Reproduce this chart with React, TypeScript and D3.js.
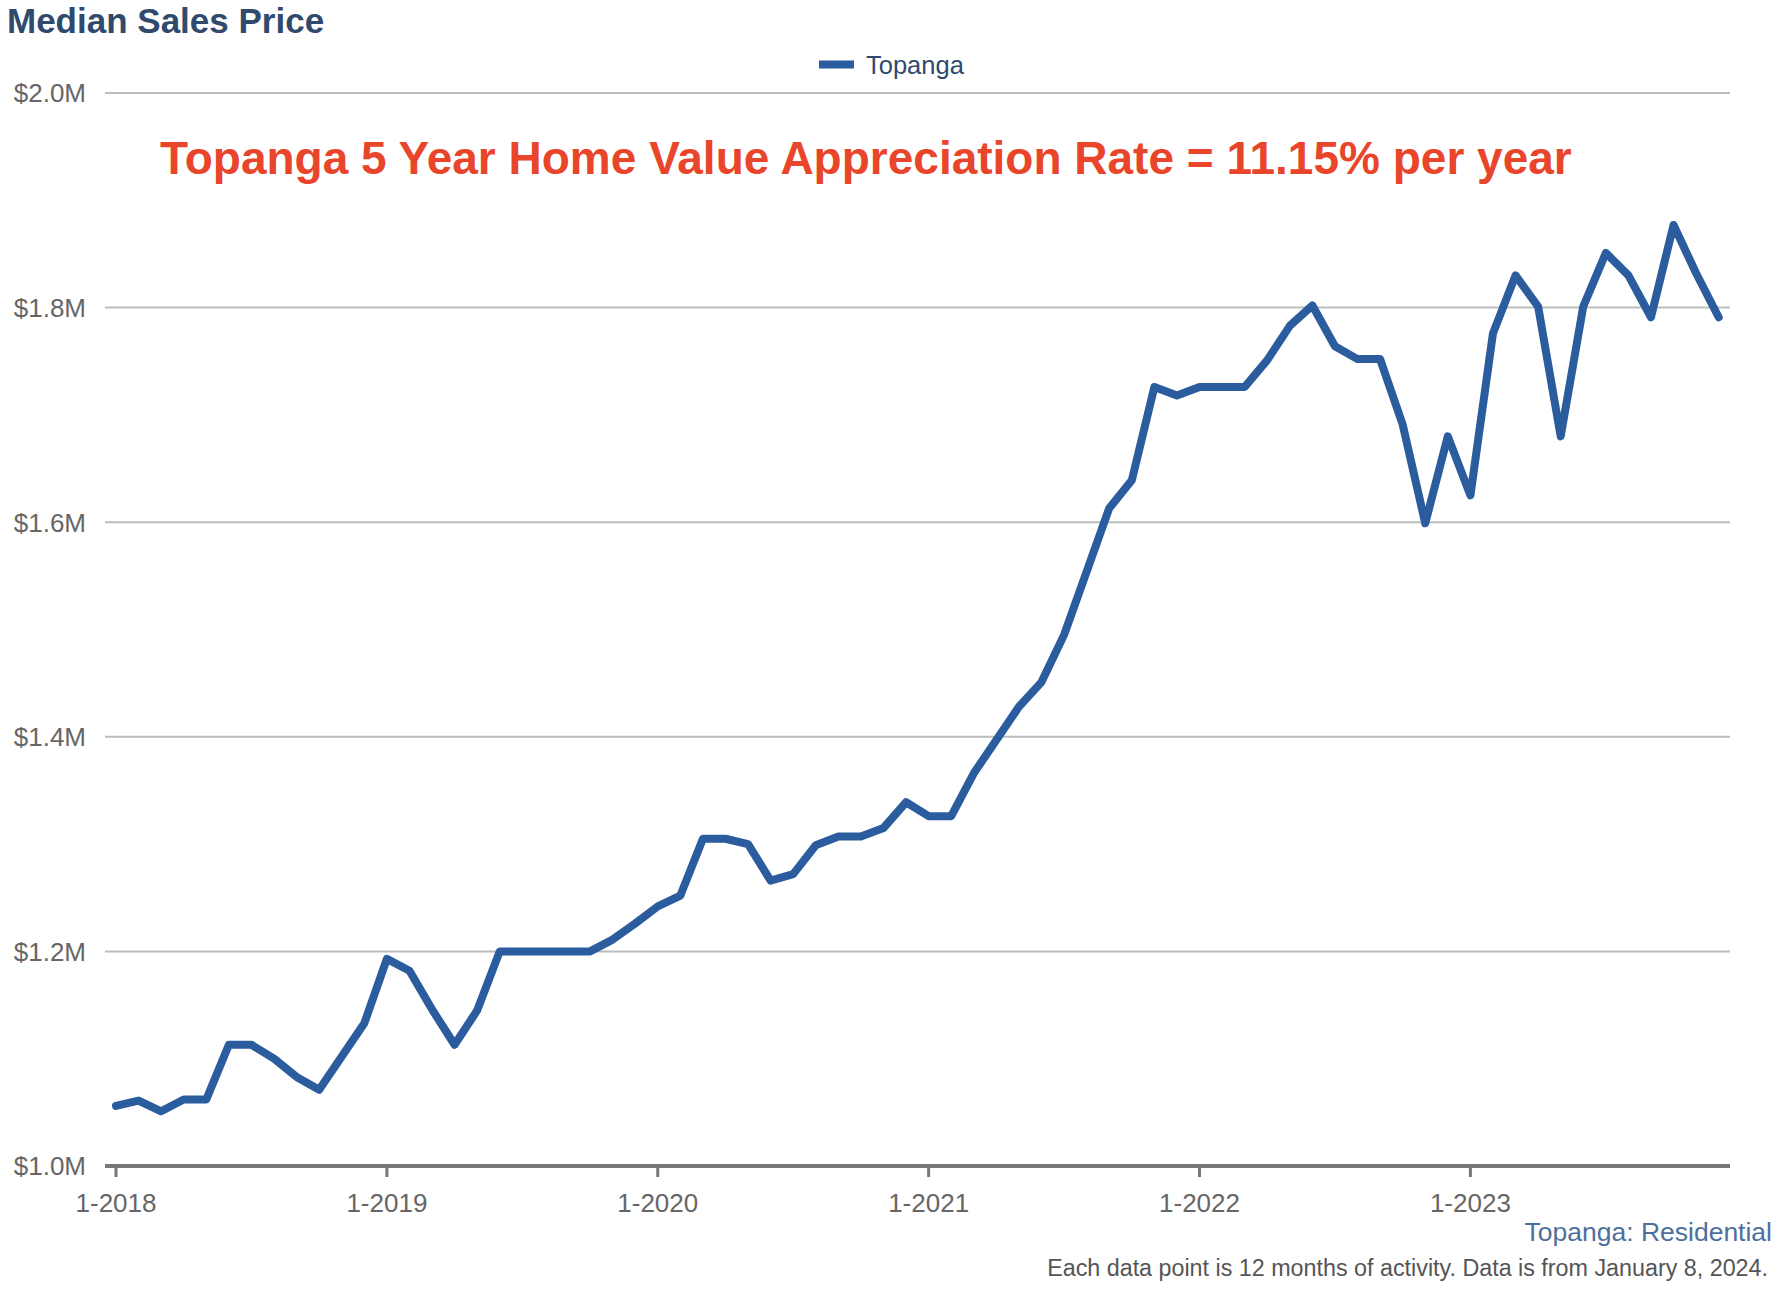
import React from "react";
import * as d3 from "d3";

const months: string[] = d3
  .timeMonth.range(new Date(2018, 0, 1), new Date(2024, 0, 1))
  .map((d) => `${d.getMonth() + 1}-${d.getFullYear()}`);

const medianPrice: number[] = [
  1056000, 1061000, 1051000, 1062000, 1062000, 1113000, 1113000, 1100000, 1083000, 1071000, 1102000, 1133000,
  1193000, 1182000, 1146000, 1113000, 1145000, 1200000, 1200000, 1200000, 1200000, 1200000, 1211000, 1226000,
  1242000, 1252000, 1305000, 1305000, 1300000, 1266000, 1272000, 1299000, 1307000, 1307000, 1315000, 1339000,
  1326000, 1326000, 1366000, 1397000, 1428000, 1451000, 1495000, 1554000, 1613000, 1639000, 1726000, 1718000,
  1726000, 1726000, 1726000, 1751000, 1783000, 1802000, 1764000, 1752000, 1752000, 1691000, 1599000, 1680000,
  1625000, 1776000, 1830000, 1801000, 1680000, 1801000, 1851000, 1830000, 1791000, 1877000, 1832000, 1791000,
];

const yTicks: number[] = [1000000, 1200000, 1400000, 1600000, 1800000, 2000000];
const xTickLabels: string[] = ["1-2018", "1-2019", "1-2020", "1-2021", "1-2022", "1-2023"];

const W = 1786;
const H = 1292;
const FONT = "'Liberation Sans', Arial, Helvetica, sans-serif";

export default function App() {
  const plotLeft = 105;
  const plotRight = 1730;
  const x = d3.scalePoint<string>().domain(months).range([116, 1718.7]);
  const y = d3.scaleLinear().domain([1000000, 2000000]).range([1166, 93]);
  const line = d3
    .line<number>()
    .x((_, i) => x(months[i]) as number)
    .y((d) => y(d));
  const fmt = (v: number) => `$${(v / 1e6).toFixed(1)}M`;

  return (
    <svg
      width={W}
      height={H}
      style={{ position: "absolute", left: 0, top: 0, background: "#fff" }}
      fontFamily={FONT}
    >
      <text x={7} y={33} fontSize={35} fontWeight="bold" fill="#2F4A6C">
        Median Sales Price
      </text>

      {/* legend */}
      <rect x={819} y={60.5} width={35} height={8} fill="#2A5C9E" />
      <text x={866} y={74} fontSize={25.5} fill="#2F4A6C">
        Topanga
      </text>

      {/* gridlines */}
      {yTicks.slice(1).map((t) => (
        <line key={t} x1={plotLeft} x2={plotRight} y1={y(t)} y2={y(t)} stroke="#BDBDBD" strokeWidth={2} />
      ))}
      {/* y labels */}
      {yTicks.map((t) => (
        <text key={"l" + t} x={86} y={y(t)} dy="0.36em" textAnchor="end" fontSize={26} fill="#666">
          {fmt(t)}
        </text>
      ))}

      {/* x axis */}
      <line x1={plotLeft} x2={plotRight} y1={y(1000000)} y2={y(1000000)} stroke="#777" strokeWidth={4} />
      {xTickLabels.map((lab) => (
        <g key={lab}>
          <line x1={x(lab)} x2={x(lab)} y1={y(1000000)} y2={y(1000000) + 11} stroke="#777" strokeWidth={3} />
          <text x={x(lab)} y={1212} textAnchor="middle" fontSize={26} fill="#666">
            {lab}
          </text>
        </g>
      ))}

      {/* annotation */}
      <text x={160} y={174} fontSize={46} fontWeight="bold" fill="#E8452A">
        Topanga 5 Year Home Value Appreciation Rate = 11.15% per year
      </text>

      {/* series line */}
      <path
        d={line(medianPrice) || ""}
        fill="none"
        stroke="#2A5C9E"
        strokeWidth={8}
        strokeLinejoin="round"
        strokeLinecap="round"
      />

      <text x={1772} y={1241} textAnchor="end" fontSize={26.5} fill="#4D6F9E">
        Topanga: Residential
      </text>
      <text x={1768} y={1276} textAnchor="end" fontSize={23.3} fill="#555">
        Each data point is 12 months of activity. Data is from January 8, 2024.
      </text>
    </svg>
  );
}
